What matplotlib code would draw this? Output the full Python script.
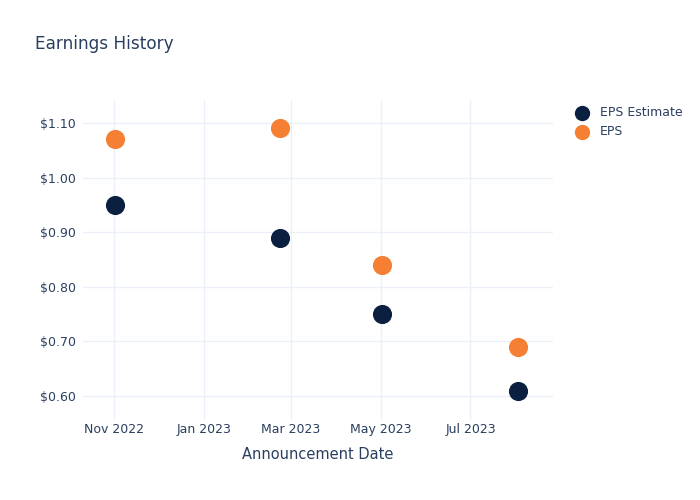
import matplotlib
matplotlib.use("Agg")
import matplotlib.pyplot as plt
import matplotlib.dates as mdates
from matplotlib.ticker import FuncFormatter
import datetime as dt

dates = [dt.date(2022, 11, 2), dt.date(2023, 2, 22), dt.date(2023, 5, 2), dt.date(2023, 8, 2)]
eps_estimate = [0.95, 0.89, 0.75, 0.61]
eps_actual = [1.07, 1.09, 0.84, 0.69]

txt = "#2a3f5f"
grid = "#ebf0f8"
c_est = "#0b1f41"
c_eps = "#f57f32"

fig = plt.figure(figsize=(7, 5), dpi=100)
ax = fig.add_axes([83/700, 80/500, 470/700, 320/500])

ax.scatter(dates, eps_estimate, s=190, color=c_est, label="EPS Estimate", zorder=3, linewidths=0)
ax.scatter(dates, eps_actual, s=190, color=c_eps, label="EPS", zorder=3, linewidths=0)

ax.set_xlim(mdates.date2num(dt.date(2022, 10, 11)), mdates.date2num(dt.date(2023, 8, 26)))
ax.set_ylim(0.556, 1.142)
ax.xaxis.set_major_locator(mdates.MonthLocator(bymonth=[1, 3, 5, 7, 9, 11]))
ax.xaxis.set_major_formatter(mdates.DateFormatter("%b %Y"))
ax.set_yticks([0.6, 0.7, 0.8, 0.9, 1.0, 1.1])
ax.yaxis.set_major_formatter(FuncFormatter(lambda v, p: f"${v:.2f}"))

for s in ax.spines.values():
    s.set_visible(False)
ax.grid(True, color=grid, linewidth=1)
ax.set_axisbelow(True)
ax.tick_params(length=0, labelsize=9, colors=txt)
ax.tick_params(axis="x", pad=2)
ax.tick_params(axis="y", pad=5)
ax.set_xlabel("Announcement Date", fontsize=10.5, color=txt, labelpad=8)

fig.text(35/700, 1 - 44/500, "Earnings History", fontsize=12.2, color=txt, va="center", ha="left")

leg = ax.legend(loc="upper left", bbox_to_anchor=(1.025, 0.997), frameon=False, fontsize=9,
                labelcolor=txt, markerscale=0.8, handletextpad=0.4, labelspacing=0.5,
                borderaxespad=0)

fig.savefig("out.png", dpi=100)
